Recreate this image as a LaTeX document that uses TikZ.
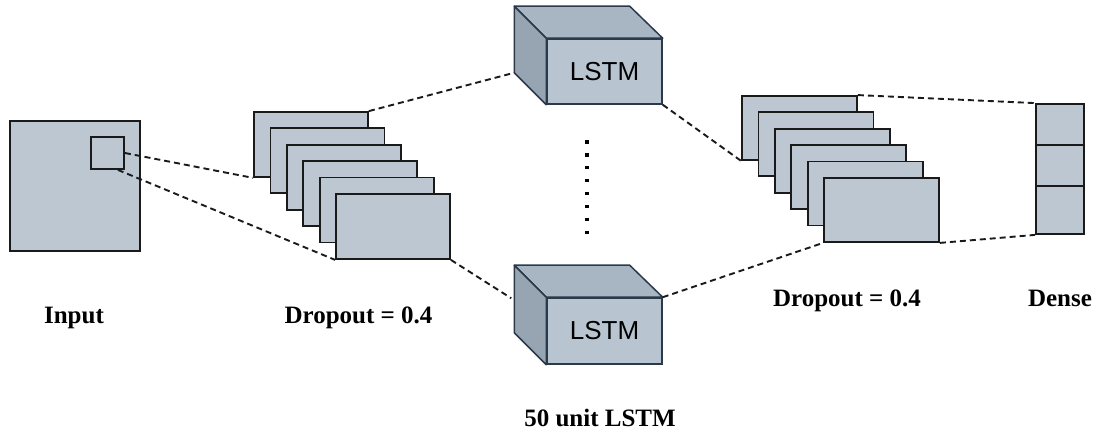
\documentclass[tikz,border=0pt]{standalone}
\usepackage{fontspec}
\setmainfont{Liberation Serif}
\newfontfamily\lsans{Liberation Sans}
\usetikzlibrary{calc}
\definecolor{boxfill}{HTML}{BCC7D1}
\definecolor{cubefront}{HTML}{B8C5D1}
\definecolor{cubetop}{HTML}{A8B5C2}
\definecolor{cubeleft}{HTML}{97A4B2}
\definecolor{cubeline}{HTML}{2A3A4A}
\definecolor{lineblack}{HTML}{1A1A1A}
\tikzset{
  plate/.style={draw=lineblack, line width=1.8pt, fill=boxfill, rectangle, inner sep=0pt},
  front/.style={draw=cubeline, line width=1.5pt, fill=cubefront, rectangle, inner sep=0pt,
    minimum width=115pt, minimum height=65pt, font=\lsans\fontsize{26}{30}\selectfont},
  face/.style={draw=cubeline, line width=1.5pt, line join=round},
  link/.style={draw=lineblack, line width=1.9pt, dash pattern=on 6pt off 4pt},
  label/.style={anchor=base, inner sep=0pt, font=\fontsize{25}{30}\selectfont\bfseries},
  dotmark/.style={fill=black, rectangle, inner sep=0pt, minimum size=3.4pt},
}
\begin{document}
\begin{tikzpicture}[x=1pt,y=1pt]
\useasboundingbox (0,0) rectangle (1096,436);

% Input
\node[plate, minimum width=130pt, minimum height=130pt] (input) at (75,250) {};
\node[plate, minimum width=33pt, minimum height=32pt] (patch) at (107.5,283) {};

% Left stack
\foreach \i in {1,...,6} {
  \node[plate, minimum width=114pt, minimum height=65pt] (l\i)
    at ({311+16.4*(\i-1)},{291.5-16.4*(\i-1)}) {};
}

% Right stack
\foreach \i in {1,...,6} {
  \node[plate, minimum width=115pt, minimum height=64pt] (r\i)
    at ({799.5+16.4*(\i-1)},{308-16.4*(\i-1)}) {};
}

% Dense
\node[plate, minimum width=48pt, minimum height=41pt] (d1) at (1060,311.5) {};
\node[plate, minimum width=48pt, minimum height=41pt] (d2) at (1060,270.5) {};
\node[plate, minimum width=48pt, minimum height=48pt] (d3) at (1060,226) {};

% LSTM cubes
\node[front] (lstmA) at (604.5,364.5) {LSTM};
\node[front, minimum height=66pt] (lstmB) at (604.5,105) {LSTM};
\foreach \c in {lstmA,lstmB} {
  \filldraw[face, fill=cubetop] (\c.north west) -- ++(-32,32)
    -- ($(\c.north east)+(-33,32)$) -- (\c.north east) -- cycle;
  \filldraw[face, fill=cubeleft] (\c.north west) -- ++(-32,32)
    -- ($(\c.south west)+(-32,32)$) -- (\c.south west) -- cycle;
}
\coordinate (lstmAback) at ($(lstmA.south west)+(-32,32)$);
\coordinate (lstmBside) at ($(lstmB.north west)+(-35,-1)$);
\coordinate (patchcorner) at ($(patch.south east)+(-7,0)$);

% Connectors
\draw[link] (patch.east) -- (l1.south west);
\draw[link] (patchcorner) -- (l6.south west);
\draw[link] (l1.north east) -- (lstmAback);
\draw[link] (l6.south east) -- (lstmBside);
\draw[link] (lstmA.south east) -- (r1.south west);
\draw[link] (lstmB.north east) -- (r6.south west);
\draw[link] (r1.north east) -- (d1.north west);
\draw[link] (r6.south east) -- (d3.south west);

% Dots
\foreach \k in {0,...,7} {
  \node[dotmark] (dot\k) at (587,{294-12.9*\k}) {};
}

% Labels
\node[label] (tin) at (74,112) {Input};
\node[label] (tdl) at (358.5,112) {Dropout = 0.4};
\node[label] (tdr) at (847,129) {Dropout = 0.4};
\node[label] (tde) at (1060,129) {Dense};
\node[label] (tun) at (600,9) {50 unit LSTM};
\end{tikzpicture}
\end{document}
